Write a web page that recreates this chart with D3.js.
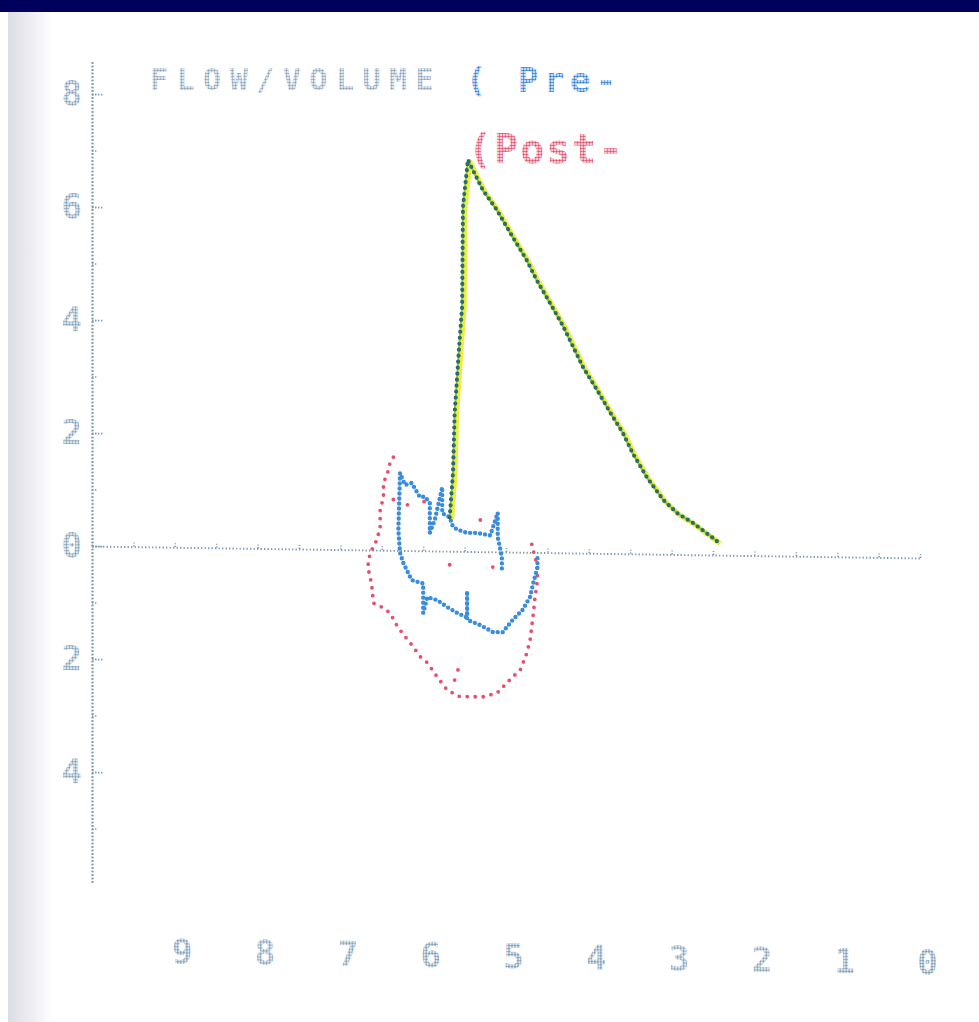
<!DOCTYPE html>
<html>
<head>
<meta charset="utf-8">
<script src="https://cdn.jsdelivr.net/npm/d3@7"></script>
<style>
  html, body { margin: 0; padding: 0; background: #fff; overflow: hidden; }
  svg { display: block; }
</style>
</head>
<body>
<svg id="chart" width="979" height="1022"></svg>
<script>
// ---- data: volume (L) and flow (L/s) ----
const volTicks = [9, 8, 7, 6, 5, 4, 3, 2, 1, 0];
const flowTicks = [-4, -2, 0, 2, 4, 6, 8];

// forced expiration (both tests overlap)
const expVol  = [5.68, 5.64, 5.62, 5.56, 5.53, 5.52, 5.47, 5.46, 5.40, 5.28, 5.11, 4.95, 4.75, 4.63, 4.47, 4.31, 4.23, 4.07, 3.90, 3.74, 3.59, 3.47, 3.30, 3.10, 2.93, 2.74, 2.50, 2.44];
const expFlow = [0.60, 1.39, 2.45, 3.74, 4.33, 6.10, 6.79, 6.93, 6.75, 6.40, 6.05, 5.65, 5.17, 4.82, 4.42, 4.01, 3.77, 3.29, 2.89, 2.49, 2.14, 1.78, 1.36, 0.96, 0.73, 0.56, 0.30, 0.23];

// pre-bronchodilator loop
const preVol  = [4.62, 4.62, 4.67, 4.71, 4.80, 4.92, 5.04, 5.16, 5.31, 5.47, 5.47, 5.47, 5.59, 5.71, 5.83, 5.95, 6.00, 6.00, 6.14, 6.18, 6.24, 6.28, 6.30, 6.28, 6.22, 6.14, 6.04, 5.98, 5.92, 5.92, 5.86, 5.77, 5.77, 5.68, 5.64, 5.58, 5.47, 5.35, 5.19, 5.10, 5.10, 5.05, 5.05];
const preFlow = [-0.10, -0.26, -0.54, -0.79, -1.02, -1.20, -1.42, -1.42, -1.30, -1.21, -0.70, -1.17, -1.09, -0.99, -0.87, -0.82, -1.10, -0.58, -0.52, -0.40, -0.22, -0.04, 0.36, 1.37, 1.16, 1.20, 0.95, 0.96, 0.85, 0.32, 0.55, 1.13, 0.67, 0.60, 0.43, 0.38, 0.33, 0.33, 0.29, 0.69, 0.26, -0.09, -0.32];

// post-bronchodilator loop
const postVol  = [6.36, 6.40, 6.43, 6.48, 6.48, 6.52, 6.52, 6.56, 6.64, 6.67, 6.64, 6.62, 6.60, 6.48, 6.40, 6.31, 6.22, 6.12, 6.04, 5.95, 5.83, 5.71, 5.56, 5.40, 5.28, 5.11, 4.99, 4.92, 4.83, 4.75, 4.71, 4.69, 4.67, 4.65, 4.62, 4.62, 4.71];
const postFlow = [1.65, 1.55, 1.37, 1.19, 0.94, 0.71, 0.41, 0.18, -0.05, -0.30, -0.48, -0.65, -0.94, -1.02, -1.11, -1.35, -1.52, -1.70, -1.87, -1.98, -2.23, -2.46, -2.57, -2.57, -2.57, -2.50, -2.32, -2.21, -2.09, -1.79, -1.56, -1.33, -1.08, -0.80, -0.49, -0.26, 0.27];
// isolated post-test samples
const postDotVol  = [6.36, 6.19, 5.99, 5.68, 5.68, 5.31, 5.16, 5.58, 5.62];
const postDotFlow = [0.90, 0.81, 0.87, 0.60, -0.24, 0.56, -0.27, -2.10, -2.28];

const titleMain = "FLOW/VOLUME";
const titlePre = "( Pre-";
const titlePost = "(Post-";

// ---- drawing ----
const svg = d3.select("#chart");
const defs = svg.append("defs");

// dot-matrix fills for printed text
function dotPattern(id, color) {
  const p = defs.append("pattern").attr("id", id)
    .attr("width", 3).attr("height", 3).attr("patternUnits", "userSpaceOnUse");
  p.append("circle").attr("cx", 1.5).attr("cy", 1.5).attr("r", 1.3).attr("fill", color);
}
dotPattern("dm-axis", "#7d9cb6");
dotPattern("dm-title", "#8ea6c0");
dotPattern("dm-pre", "#2f7fd6");
dotPattern("dm-post", "#e2506e");

const grad = defs.append("linearGradient").attr("id", "edge").attr("x1", 0).attr("x2", 1);
grad.append("stop").attr("offset", 0).attr("stop-color", "#dcdce4");
grad.append("stop").attr("offset", 0.5).attr("stop-color", "#ececf1");
grad.append("stop").attr("offset", 1).attr("stop-color", "#ffffff");

// page background, paper edge and header band
svg.append("rect").attr("width", 979).attr("height", 1022).attr("fill", "#fff");
svg.append("rect").attr("x", 8).attr("y", 12).attr("width", 44).attr("height", 1010).attr("fill", "url(#edge)");
svg.append("rect").attr("x", 0).attr("y", 0).attr("width", 979).attr("height", 12).attr("fill", "#00005c");

// scales
const x = d3.scaleLinear().domain([10, 0]).range([92, 920]);
const y = d3.scaleLinear().domain([-5.95, 8.6]).range([546 + 5.95 * 56.5, 546 - 8.6 * 56.5]);

// the printed sheet is fed slightly askew
const g = svg.append("g").attr("transform", "translate(92,0) skewY(0.83) translate(-92,0)");

const axisColor = "#7f9db5";
function styleAxis(sel) {
  sel.select(".domain").attr("stroke", axisColor).attr("stroke-width", 1.9)
    .attr("stroke-dasharray", "1.4 2.1");
  sel.selectAll(".tick line").attr("stroke", axisColor).attr("stroke-width", 1.6)
    .attr("stroke-dasharray", "1.4 1.6");
}

// y axis: minor ticks every 1, labelled ticks every 2
const yMinor = g.append("g").attr("transform", `translate(${x(10)},0)`)
  .call(d3.axisLeft(y).tickValues(d3.range(-5, 9)).tickSize(-5).tickSizeOuter(0).tickFormat(""));
styleAxis(yMinor);
const yMajor = g.append("g").attr("transform", `translate(${x(10)},0)`)
  .call(d3.axisLeft(y).tickValues(flowTicks).tickSize(-11).tickSizeOuter(0).tickPadding(10)
    .tickFormat(d => Math.abs(d)));
styleAxis(yMajor);
yMajor.selectAll(".tick text")
  .attr("font-family", "DejaVu Sans Mono, monospace").attr("font-weight", "bold")
  .attr("font-size", 34).attr("fill", "url(#dm-axis)");

// zero-flow line with half-litre ticks
const xLine = g.append("g").attr("transform", `translate(0,${y(0)})`)
  .call(d3.axisBottom(x).tickValues(d3.range(0, 10.01, 0.5)).tickSize(-4).tickSizeOuter(0).tickFormat(""));
styleAxis(xLine);

// volume labels printed along the bottom
const xLab = g.append("g").attr("transform", "translate(7,962)")
  .call(d3.axisBottom(x).tickValues(volTicks).tickSize(0).tickPadding(0).tickFormat(d => d));
xLab.select(".domain").remove();
xLab.selectAll(".tick text").attr("dy", 0).attr("y", 0)
  .attr("font-family", "DejaVu Sans Mono, monospace").attr("font-weight", "bold")
  .attr("font-size", 34).attr("fill", "url(#dm-axis)");

// curves
const line = d3.line().x(d => x(d[0])).y(d => y(d[1]));
const postPts = postVol.map((v, i) => [v, postFlow[i]]);
const prePts = preVol.map((v, i) => [v, preFlow[i]]);
const expPts = expVol.map((v, i) => [v, expFlow[i]]);

g.append("path").attr("d", line(postPts)).attr("fill", "none")
  .attr("stroke", "#e4506f").attr("stroke-width", 3.8)
  .attr("stroke-linecap", "round").attr("stroke-dasharray", "0 8");
g.selectAll(".postDot").data(postDotVol.map((v, i) => [v, postDotFlow[i]])).join("circle")
  .attr("cx", d => x(d[0])).attr("cy", d => y(d[1])).attr("r", 1.9).attr("fill", "#e4506f");

g.append("path").attr("d", line(prePts)).attr("fill", "none")
  .attr("stroke", "#3b8ddc").attr("stroke-width", 4.4)
  .attr("stroke-linecap", "round").attr("stroke-linejoin", "round").attr("stroke-dasharray", "0 5");

g.append("path").attr("d", line(expPts)).attr("fill", "none")
  .attr("transform", "translate(2,1.6)")
  .attr("stroke", "#eaee3c").attr("stroke-width", 5).attr("stroke-linejoin", "round");
g.append("path").attr("d", line(expPts)).attr("fill", "none")
  .attr("stroke", "#8cc83a").attr("stroke-width", 2).attr("stroke-linejoin", "round");
g.append("path").attr("d", line(expPts)).attr("fill", "none")
  .attr("stroke", "#2c6a6c").attr("stroke-width", 4.2)
  .attr("stroke-linecap", "round").attr("stroke-dasharray", "0 6");

// header text
const tg = svg.append("g")
  .attr("font-family", "DejaVu Sans Mono, monospace").attr("font-weight", "bold");
tg.append("text").attr("x", 150).attr("y", 90).attr("font-size", 30)
  .attr("letter-spacing", 8.5).attr("fill", "url(#dm-title)").text(titleMain);
tg.append("text").attr("x", 466).attr("y", 92).attr("font-size", 34)
  .attr("letter-spacing", 5.5).attr("fill", "url(#dm-pre)").text(titlePre);
tg.append("text").attr("x", 468).attr("y", 163).attr("font-size", 40)
  .attr("letter-spacing", 2).attr("fill", "url(#dm-post)").text(titlePost);
</script>
</body>
</html>
